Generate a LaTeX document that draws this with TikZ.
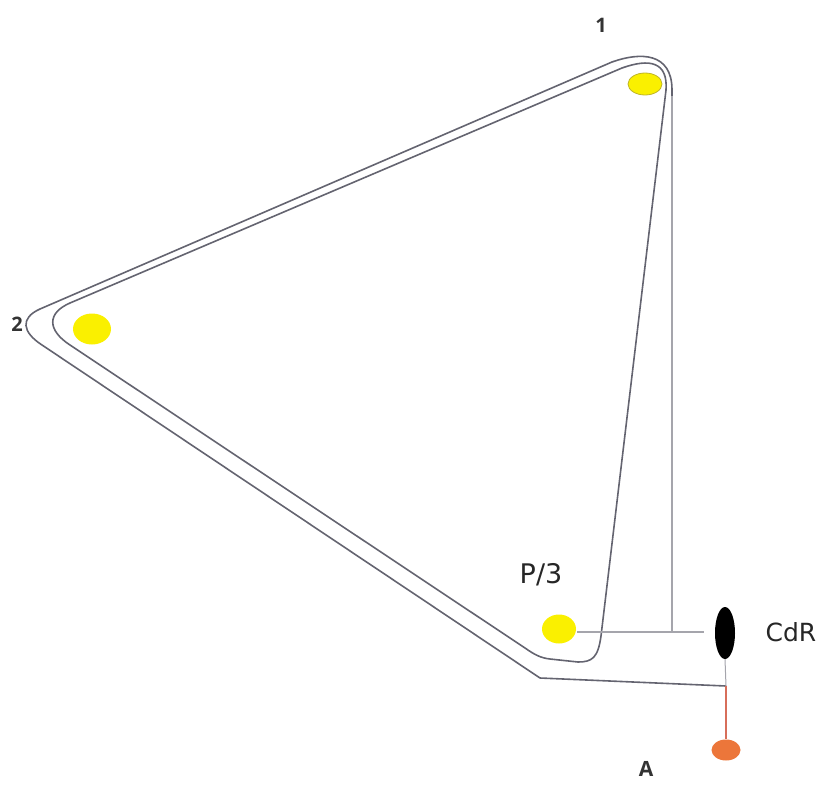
\documentclass[tikz,border=0pt]{standalone}
\usepackage{fontspec}
\setmainfont{Open Sans}
\newfontfamily\lblfont{DejaVu Sans}
\usetikzlibrary{shapes.geometric}
\definecolor{linegray}{RGB}{100,100,112}
\definecolor{lightline}{RGB}{165,165,172}
\definecolor{dotyellow}{RGB}{250,240,0}
\definecolor{dotedge}{RGB}{190,180,40}
\definecolor{dotorange}{RGB}{236,118,58}
\definecolor{redline}{RGB}{215,110,90}
\begin{document}
\begin{tikzpicture}[x=1pt,y=-1pt,
  tube/.style={draw=linegray, line width=1.6pt, line join=round},
  thinline/.style={draw=lightline, line width=1.4pt},
  ydot/.style={ellipse, fill=dotyellow, draw=none, inner sep=0pt},
  lbl/.style={font=\lblfont\fontsize{25}{28}\selectfont, text=black!85},
  num/.style={font=\bfseries\fontsize{20}{22}\selectfont, text=black!80}]
\useasboundingbox (0,0) rectangle (819,798);
% named points
\coordinate (j) at (726,686);
\coordinate (t) at (672,632);
\coordinate (hs) at (577,632);
\coordinate (he) at (704,632);
% outer line of the loop
\draw[tube] (j) -- (540,678) -- (42,345) .. controls (22,332) and (20,318) .. (40,309)
  -- (612,62) .. controls (640,52) and (672,52) .. (672,90) -- (t);
% inner line of the loop
\draw[tube] (70,345) .. controls (47,330) and (47,313) .. (70,303) -- (622,68)
  .. controls (650,58) and (668,62) .. (666,90) -- (601,636)
  .. controls (598,658) and (592,662) .. (578,662) -- (550,659)
  .. controls (541,658) and (535,655) .. (525,648) -- cycle;
% dots
\node[ydot, draw=dotedge, line width=0.8pt, minimum width=34pt, minimum height=22pt] (d1) at (645,84) {};
\node[ydot, minimum width=38pt, minimum height=31pt] (d2) at (92,329) {};
\node[ydot, minimum width=34pt, minimum height=29pt] (d3) at (559,629) {};
\node[ellipse, fill=black, inner sep=0pt, minimum width=20pt, minimum height=52pt] (cdr) at (725,633) {};
\node[ellipse, fill=dotorange, inner sep=0pt, minimum width=29pt, minimum height=21pt] (adot) at (726,750) {};
% connectors
\draw[thinline] (hs) -- (he);
\draw[thinline] (t) -- (672,96);
\draw[draw=lightline, line width=1pt] (cdr.south) -- (j);
\draw[draw=redline, line width=1.1pt] (j) -- (adot.north);
% labels
\node[num] (n1) at (601,25) {1};
\node[num] (n2) at (17,324) {2};
\node[lbl, font=\lblfont\fontsize{27}{30}\selectfont] (p3) at (541,575) {P/3};
\node[lbl] (cdrlbl) at (791,632) {CdR};
\node[num, font=\bfseries\fontsize{21}{24}\selectfont] (alb) at (646,769) {A};
\end{tikzpicture}
\end{document}
